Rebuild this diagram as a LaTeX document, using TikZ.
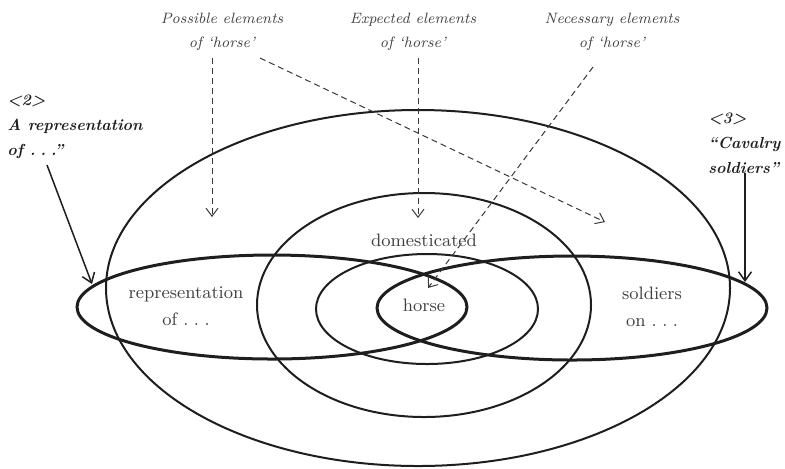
\documentclass[tikz,border=0pt]{standalone}
\usetikzlibrary{shapes.geometric,arrows.meta}
\definecolor{ink}{HTML}{1E1E1E}
\definecolor{labelgrey}{HTML}{404040}
\definecolor{dashgrey}{HTML}{383838}
\newcommand{\spaceddots}{.\kern0.3em.\kern0.3em.}
\begin{document}
\begin{tikzpicture}[x=0.5pt,y=-0.5pt,
  ring/.style={draw=ink, line width=1pt, ellipse, inner sep=0pt, outer sep=0pt},
  thickring/.style={ring, line width=1.5pt},
  pointer/.style={draw=dashgrey, line width=0.5pt, dash pattern=on 3pt off 2pt,
    -{Straight Barb[length=4pt,width=6pt]}},
  solidpointer/.style={draw=ink, line width=0.75pt,
    -{Straight Barb[length=4.5pt,width=6.5pt]}},
  heading/.style={text=labelgrey, font=\fontsize{7.5}{12}\selectfont\itshape,
    align=center, inner sep=0pt},
  tag/.style={text=ink, font=\fontsize{8}{12.5}\selectfont\bfseries\itshape,
    align=left, inner sep=0pt, anchor=west},
  term/.style={text=labelgrey, font=\fontsize{9}{13.5}\selectfont,
    align=center, inner sep=0pt},
]
\useasboundingbox (0,0) rectangle (785,468);

% nested fields of meaning
\node[ring, minimum width=312pt, minimum height=178pt] (possiblefield) at (418,288) {};
\node[ring, minimum width=167pt, minimum height=112pt] (expectedfield) at (424,305) {};
\node[ring, minimum width=111pt, minimum height=55pt] (necessaryfield) at (427,309) {};

% the two contexts, overlapping in 'horse'
\node[thickring, minimum width=195pt, minimum height=52pt] (reprfield) at (272,307) {};
\node[thickring, minimum width=195pt, minimum height=52pt] (cavfield) at (572,308) {};

% terms inside the fields
\node[term] (domesticated) at (424,240) {domesticated};
\node[term] (horse) at (424,305) {horse};
\node[term] (representation) at (186,306) {representation\\of \spaceddots};
\node[term] (soldiers) at (652,307) {soldiers\\on \spaceddots};

% headings
\node[heading] (possible) at (222,32) {Possible elements\\of ‘horse’};
\node[heading] (expected) at (413,32) {Expected elements\\of ‘horse’};
\node[heading] (necessary) at (612,32) {Necessary elements\\of ‘horse’};

\node[tag] (tagtwo) at (7,127) {<2>\\A representation\\of \spaceddots”};
\node[tag] (tagthree) at (708,143) {<3>\\“Cavalry\\soldiers”};

% arrow ends
\coordinate (possvstart) at (212,58);
\coordinate (possvend) at (212,217);
\coordinate (possdstart) at (260,58);
\coordinate (possdend) at (605,222);
\coordinate (expstart) at (418,58);
\coordinate (expend) at (418,218);
\coordinate (necstart) at (593,67);
\coordinate (necend) at (428,288);
\coordinate (twostart) at (47,165);
\coordinate (twoend) at (92,284);
\coordinate (threestart) at (745,173);
\coordinate (threeend) at (745,282);

\draw[pointer] (possvstart) -- (possvend);
\draw[pointer] (possdstart) -- (possdend);
\draw[pointer] (expstart) -- (expend);
\draw[pointer] (necstart) -- (necend);
\draw[solidpointer] (twostart) -- (twoend);
\draw[solidpointer] (threestart) -- (threeend);
\end{tikzpicture}
\end{document}
